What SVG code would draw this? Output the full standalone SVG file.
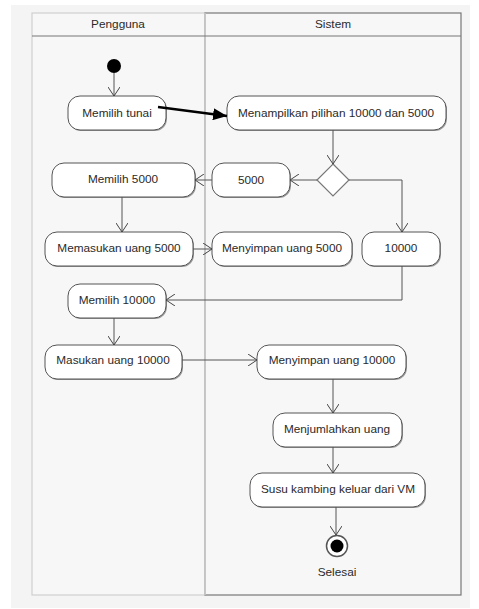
<svg xmlns="http://www.w3.org/2000/svg" width="479" height="609" viewBox="0 0 479 609">
<defs>
<marker id="open" markerWidth="10" markerHeight="12" refX="9" refY="6" orient="auto" markerUnits="userSpaceOnUse">
<path d="M0,0 L9,6 L0,12" fill="none" stroke="#444" stroke-width="1"/>
</marker>
<marker id="solid" markerWidth="14" markerHeight="12" refX="14" refY="6" orient="auto" markerUnits="userSpaceOnUse">
<path d="M0,0 L14,6 L0,12 Z" fill="#000"/>
</marker>
</defs>
<style>
.act rect.s{fill:#9a9a9a}
.act rect.b{fill:#fff;stroke:#555;stroke-width:1}
text{font-family:"Liberation Sans",Arial,sans-serif;font-size:11.8px;fill:#2a2a2a;text-anchor:middle;dominant-baseline:central}
.c{fill:none;stroke:#555;stroke-width:1;marker-end:url(#open)}
</style>
<rect x="0" y="0" width="479" height="609" fill="#fff"/>
<rect x="11" y="5" width="459" height="603" fill="#f4f4f4"/>
<g id="lanes">
<rect x="32" y="13" width="173" height="582" fill="#f7f7f7" stroke="#cfcfcf" stroke-width="1.2"/>
<rect x="205" y="13" width="256" height="582" fill="#f7f7f7" stroke="#777" stroke-width="1.2"/>
<line x1="205" y1="13" x2="205" y2="595" stroke="#d0d0d0" stroke-width="1.5"/>
<line x1="32" y1="36" x2="461" y2="36" stroke="#777" stroke-width="1.2"/>
<text x="118" y="24">Pengguna</text>
<text x="333" y="24">Sistem</text>
</g>
<g id="start"><circle cx="114" cy="66" r="7" fill="#000"/></g>
<g id="n1" class="act"><rect class="s" x="69" y="97" width="98" height="34" rx="12"/><rect class="b" x="68" y="96" width="98" height="34" rx="12"/><text x="117" y="113">Memilih tunai</text></g>
<g id="n2" class="act"><rect class="s" x="228" y="97" width="219" height="34" rx="12"/><rect class="b" x="227" y="96" width="219" height="34" rx="12"/><text x="336" y="113">Menampilkan pilihan 10000 dan 5000</text></g>
<g id="dec"><path d="M333,164 L349,180 L333,196 L317,180 Z" fill="#fff" stroke="#777" stroke-width="1.2"/></g>
<g id="n3" class="act"><rect class="s" x="213" y="164" width="78" height="34" rx="12"/><rect class="b" x="212" y="163" width="78" height="34" rx="12"/><text x="251" y="180">5000</text></g>
<g id="n4" class="act"><rect class="s" x="53" y="164" width="143" height="34" rx="12"/><rect class="b" x="52" y="163" width="143" height="34" rx="12"/><text x="123" y="179">Memilih 5000</text></g>
<g id="n5" class="act"><rect class="s" x="46" y="233" width="148" height="34" rx="12"/><rect class="b" x="45" y="232" width="148" height="34" rx="12"/><text x="119" y="248">Memasukan uang 5000</text></g>
<g id="n6" class="act"><rect class="s" x="213" y="233" width="140" height="34" rx="12"/><rect class="b" x="212" y="232" width="140" height="34" rx="12"/><text x="282" y="248">Menyimpan uang 5000</text></g>
<g id="n7" class="act"><rect class="s" x="363" y="233" width="78" height="34" rx="12"/><rect class="b" x="362" y="232" width="78" height="34" rx="12"/><text x="401" y="248">10000</text></g>
<g id="n8" class="act"><rect class="s" x="69" y="285" width="98" height="34" rx="12"/><rect class="b" x="68" y="284" width="98" height="34" rx="12"/><text x="117" y="300">Memilih 10000</text></g>
<g id="n9" class="act"><rect class="s" x="46" y="346" width="137" height="34" rx="12"/><rect class="b" x="45" y="345" width="137" height="34" rx="12"/><text x="113" y="360">Masukan uang 10000</text></g>
<g id="n10" class="act"><rect class="s" x="258" y="346" width="149" height="34" rx="12"/><rect class="b" x="257" y="345" width="149" height="34" rx="12"/><text x="332" y="360">Menyimpan uang 10000</text></g>
<g id="n11" class="act"><rect class="s" x="274" y="414" width="129" height="34" rx="12"/><rect class="b" x="273" y="413" width="129" height="34" rx="12"/><text x="337" y="429">Menjumlahkan uang</text></g>
<g id="n12" class="act"><rect class="s" x="251" y="474" width="175" height="34" rx="12"/><rect class="b" x="250" y="473" width="175" height="34" rx="12"/><text x="338" y="489">Susu kambing keluar dari VM</text></g>
<g id="end"><circle cx="337" cy="546" r="10.5" fill="#fff" stroke="#555" stroke-width="1.5"/><circle cx="337" cy="546" r="6.5" fill="#000"/><text x="337" y="572">Selesai</text></g>
<g id="connectors">
<path class="c" d="M114,73 L114,96"/>
<path d="M158,107 L227,116" fill="none" stroke="#000" stroke-width="2.6" marker-end="url(#solid)"/>
<path class="c" d="M333,130 L333,164"/>
<path class="c" d="M317,180 L290,180"/>
<path class="c" d="M212,180 L195,180"/>
<path class="c" d="M349,180 L402,180 L402,232"/>
<path class="c" d="M122,197 L122,232"/>
<path class="c" d="M193,249 L212,249"/>
<path class="c" d="M402,266 L402,300 L166,300"/>
<path class="c" d="M114,318 L114,345"/>
<path class="c" d="M182,360 L257,360"/>
<path class="c" d="M333,379 L333,413"/>
<path class="c" d="M333,447 L333,473"/>
<path class="c" d="M336,507 L336,535"/>
</g>
</svg>
